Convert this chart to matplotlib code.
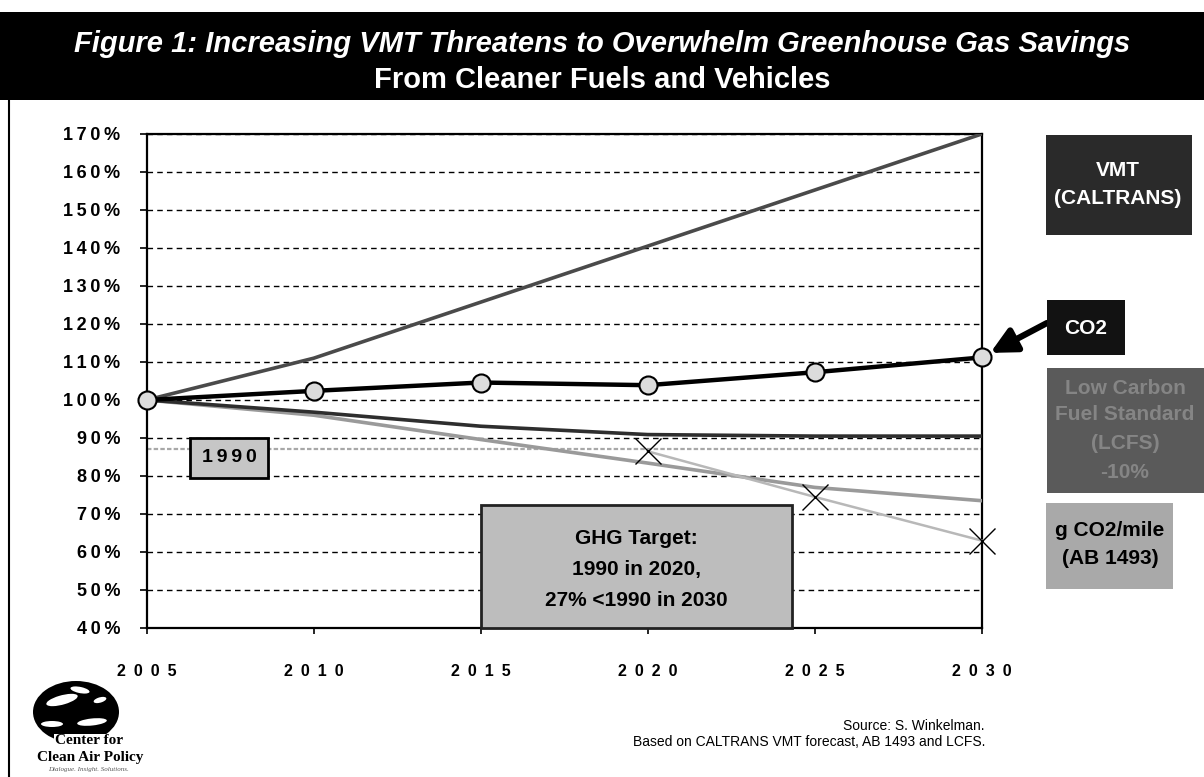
import matplotlib
matplotlib.use("Agg")
import matplotlib.pyplot as plt
from matplotlib import font_manager
from matplotlib.lines import Line2D
from matplotlib.patches import Ellipse, Rectangle

# index values, 2005 = 100%
YEARS = [2005, 2010, 2015, 2020, 2025, 2030]
VMT = [100, 111.0, 125.75, 140.5, 155.25, 170.0]
CO2 = [100, 102.4, 104.6, 103.9, 107.3, 111.2]
LCFS = [100, 96.8, 93.1, 90.9, 90.5, 90.5]
G_CO2_MILE = [100, 96.0, 89.6, 83.4, 77.0, 73.5]
LEVEL_1990 = [87, 87, 87, 87, 87, 87]
TARGET_YEARS = [2020, 2025, 2030]
TARGET = [86.5, 74.5, 63.0]
Y_TICKS = list(range(40, 171, 10))

W, H = 1204, 777

installed = {f.name for f in font_manager.fontManager.ttflist}
NARROW = "Liberation Sans Narrow" if "Liberation Sans Narrow" in installed else "Liberation Sans"
FAM = [NARROW, "DejaVu Sans"]
SERIF = ["Liberation Serif", "DejaVu Serif"]


def spaced(s, gap="\u2002"):
    return gap.join(s)


def fx(x):
    return x / W


def fy(y):
    return 1 - y / H


def box(fig, x0, y0, x1, y1, fc, ec="none", lw=0):
    fig.add_artist(Rectangle((fx(x0), fy(y1)), (x1 - x0) / W, (y1 - y0) / H,
                             transform=fig.transFigure, fc=fc, ec=ec, lw=lw, zorder=3))


def box_text(fig, x, y, s, color, size=15, **kw):
    fig.text(fx(x), fy(y), s, color=color, fontsize=size, fontweight="bold",
             family=FAM, ha="center", va="center", zorder=4, **kw)


fig = plt.figure(figsize=(W / 100, H / 100), dpi=100)
fig.patch.set_facecolor("white")

# header bar
fig.add_artist(Rectangle((0, fy(100)), 1, (100 - 12) / H, transform=fig.transFigure,
                         fc="black", ec="none", zorder=0))
fig.text(0.5, fy(44), "Figure 1: Increasing VMT Threatens to Overwhelm Greenhouse Gas Savings",
         color="white", fontsize=21, fontweight="bold", fontstyle="italic",
         family=FAM, ha="center", va="center")
fig.text(0.5, fy(80), "From Cleaner Fuels and Vehicles",
         color="white", fontsize=21, fontweight="bold", family=FAM, ha="center", va="center")
fig.add_artist(Line2D([fx(9), fx(9)], [0, fy(100)], color="black", lw=1.5))

ax = fig.add_axes([fx(146.7), fy(628), (981.7 - 146.7) / W, (628 - 134) / H])
ax.set_xlim(2005, 2030)
ax.set_ylim(40, 170)
ax.set_yticks(Y_TICKS)
ax.set_yticklabels([spaced(f"{v}%", "\u2009") for v in Y_TICKS])
ax.set_xticks(YEARS)
ax.set_xticklabels([spaced(str(y)) for y in YEARS])
for lab in ax.get_yticklabels():
    lab.set_family(FAM)
    lab.set_fontweight("bold")
    lab.set_fontsize(13)
for lab in ax.get_xticklabels():
    lab.set_family(FAM)
    lab.set_fontweight("bold")
    lab.set_fontsize(11.5)
ax.tick_params(axis="y", direction="out", length=5, width=1.2, pad=14)
ax.tick_params(axis="x", direction="out", length=4, width=1.2, pad=22)
ax.grid(axis="y", color="black", lw=1.0, ls=(0, (4, 3)), zorder=1)
for sp in ax.spines.values():
    sp.set_color("black")
    sp.set_linewidth(1.6)

ax.plot(YEARS, LEVEL_1990, color="#a8a8a8", lw=1.6, ls=(0, (2, 1)), zorder=2)
ax.plot(YEARS, G_CO2_MILE, color="#9a9a9a", lw=2.6, zorder=3)
ax.plot(TARGET_YEARS, TARGET, color="#b8b8b8", lw=1.8, marker="x", ms=19,
        mec="black", mew=1.0, zorder=3, clip_on=False)
ax.plot(YEARS, LCFS, color="#2e2e2e", lw=2.6, zorder=4)
ax.plot(YEARS, VMT, color="#4a4a4a", lw=2.6, zorder=4)
ax.plot(YEARS, CO2, color="black", lw=3.2, marker="o", ms=13, mfc="#dcdcdc",
        mec="black", mew=1.5, zorder=5, clip_on=False)

ax.annotate("", xy=(YEARS[-1], CO2[-1]), xycoords="data",
            xytext=(1047, H - 323), textcoords="figure pixels",
            arrowprops=dict(arrowstyle="-|>", color="black", lw=4.5,
                            mutation_scale=38, shrinkA=0, shrinkB=7))

# series labels on the right
box(fig, 1045.7, 135, 1191.7, 235, "#2a2a2a")
box_text(fig, 1118, 170, "VMT", "white")
box_text(fig, 1118, 198, "(CALTRANS)", "white")

box(fig, 1046.7, 300, 1125, 355, "#121212")
box_text(fig, 1086, 328, "CO2", "white")

box(fig, 1046.7, 368.3, 1204, 492.7, "#5a5a5a")
for yy, s in zip([388, 415, 443, 473], ["Low Carbon", "Fuel Standard", "(LCFS)", "-10%"]):
    box_text(fig, 1125, yy, s, "#858585")

box(fig, 1045.7, 503.3, 1173.3, 589.3, "#a9a9a9")
box_text(fig, 1110, 530, "g CO2/mile", "black")
box_text(fig, 1110, 558, "(AB 1493)", "black")

# in-plot notes
box(fig, 190, 437.7, 268.3, 478.3, "#c6c6c6", ec="black", lw=2)
box_text(fig, 229, 458, spaced("1990", "\u2009"), "black", size=14)

box(fig, 480.8, 505, 791.5, 628.3, "#bdbdbd", ec="#222222", lw=2)
box_text(fig, 636, 538, "GHG Target:", "black")
box_text(fig, 636, 570, "1990 in 2020,", "black")
box_text(fig, 636, 600, "27% <1990 in 2030", "black")

# source note
fig.text(fx(985), fy(726), "Source: S. Winkelman.", fontsize=10, family=FAM,
         ha="right", va="center")
fig.text(fx(985), fy(742), "Based on CALTRANS VMT forecast, AB 1493 and LCFS.",
         fontsize=10, family=FAM, ha="right", va="center")

# logo: globe with cloud streaks and wordmark
fig.add_artist(Ellipse((fx(76), fy(712)), 86 / W, 62 / H, transform=fig.transFigure,
                       fc="black", ec="none", zorder=2))
for cx, cy, w, h, a in [(62, 700, 34, 9, 25), (92, 722, 30, 7, 10), (80, 690, 20, 6, -20),
                        (52, 724, 22, 6, 0), (100, 700, 14, 5, 30)]:
    fig.add_artist(Ellipse((fx(cx), fy(cy)), w / W, h / H, angle=a,
                           transform=fig.transFigure, fc="white", ec="none", zorder=3))
fig.text(fx(55), fy(741), "Center for", fontsize=11, fontweight="bold",
         family=SERIF, ha="left", va="center", zorder=4,
         bbox=dict(fc="white", ec="none", pad=0.5))
fig.text(fx(37), fy(757), "Clean Air Policy", fontsize=11, fontweight="bold",
         family=SERIF, ha="left", va="center", zorder=4)
fig.text(fx(48), fy(769), "Dialogue. Insight. Solutions.", fontsize=5, fontstyle="italic",
         family=SERIF, color="#555555", ha="left", va="center")

fig.savefig("out.png", dpi=100)
